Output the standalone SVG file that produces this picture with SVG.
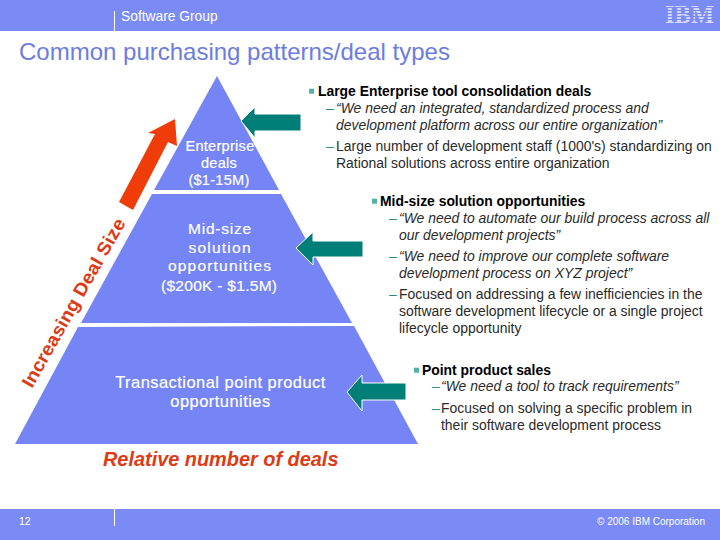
<svg xmlns="http://www.w3.org/2000/svg" width="720" height="540" viewBox="0 0 720 540">
<style>
text{font-family:"Liberation Sans",Arial,sans-serif}
.bar{fill:#7b8bf6}
.pyr{fill:#7585f6}
.nl{fill:#fff;font-size:15.5px;text-anchor:middle;stroke:#fff;stroke-width:.2}
.nt{fill:#fff;font-size:16.4px;letter-spacing:.5px;text-anchor:middle;stroke:#fff;stroke-width:.2}
.nb{fill:#fff;font-size:14.5px;letter-spacing:.3px;text-anchor:middle;stroke:#fff;stroke-width:.2}
.h{fill:#000;font-size:13.9px;font-weight:bold}
.b{fill:#2a2a2a;font-size:13.95px}
.i{fill:#2a2a2a;font-size:13.95px;font-style:italic}
.dash{fill:#2a8a84;font-size:13.95px}
.bul{fill:#4fb3aa}
.arr{fill:#007f78;stroke:#fff;stroke-width:1}
.red{fill:#dc3b14;font-weight:bold}
</style>
<g id="header">
<rect class="bar" width="720" height="31"/>
<rect x="114" y="11" width="1" height="20" fill="#fff"/>
<text x="121" y="21" font-size="13.8" fill="#fff">Software Group</text>
<text x="665" y="23" font-size="26" font-weight="bold" fill="#d3d8fb" textLength="49" lengthAdjust="spacingAndGlyphs" style="font-family:'Liberation Serif',serif">IBM</text>
<path d="M664 7.500H716M664 10.500H716M664 13.500H716M664 16.500H716M664 19.500H716" stroke="#7b8bf6" stroke-width="1" fill="none"/>
</g>
<text id="title" x="19" y="60" font-size="24" fill="#6c7ce0">Common purchasing patterns/deal types</text>
<g id="enterprise-node">
<polygon class="pyr" points="217,76 279,190 154,190"/>
<g class="nb"><text x="220" y="151">Enterprise</text><text x="219" y="168">deals</text><text x="219" y="185">($1-15M)</text></g>
</g>
<g id="midsize-node">
<polygon class="pyr" points="152,194 281,194 352,323 81,323"/>
<g class="nl"><text x="219.500" y="234" textLength="63">Mid-size</text><text x="219.500" y="253" textLength="62">solution</text><text x="219.500" y="271" textLength="103">opportunities</text><text x="219" y="291" textLength="116">($200K - $1.5M)</text></g>
</g>
<g id="transactional-node">
<polygon class="pyr" points="78,327 354,326 418,444 15,444"/>
<g class="nt"><text x="220.500" y="388">Transactional point product</text><text x="220.500" y="407">opportunities</text></g>
</g>
<g id="connectors">
<polygon fill="#f03c08" points="175,119 177,146 168,142 133,210 119,202 155,134 148,133"/>
<polygon class="arr" points="241,121 255,107 255,114 301,114 301,131 255,131 255,138"/>
<polygon class="arr" points="296,248 313,232 313,241 363,241 363,257 313,257 313,265"/>
<polygon class="arr" points="347,392 362,375 362,383 406,383 406,400 362,400 362,411"/>
</g>
<text id="increasing" class="red" font-size="18.500" transform="translate(32,389) rotate(-60.500)" textLength="191" lengthAdjust="spacingAndGlyphs">Increasing Deal Size</text>
<text id="relative" class="red" x="103" y="466" font-size="19.900" font-style="italic">Relative number of deals</text>
<g id="enterprise-text" transform="translate(0,.7)">
<rect class="bul" x="309" y="88" width="5" height="5"/>
<text class="h" x="318" y="95">Large Enterprise tool consolidation deals</text>
<text class="dash" x="326" y="112">–</text><text class="i" x="336" y="112">“We need an integrated, standardized process and</text>
<text class="i" x="336" y="129">development platform across our entire organization”</text>
<text class="dash" x="326" y="150">–</text><text class="b" x="336" y="150">Large number of development staff (1000's) standardizing on</text>
<text class="b" x="336" y="167">Rational solutions across entire organization</text>
</g>
<g id="midsize-text" transform="translate(0,.7)">
<rect class="bul" x="372" y="198" width="5" height="5"/>
<text class="h" x="380" y="205">Mid-size solution opportunities</text>
<text class="dash" x="389" y="222">–</text><text class="i" x="399" y="222">“We need to automate our build process across all</text>
<text class="i" x="399" y="239">our development projects”</text>
<text class="dash" x="389" y="260">–</text><text class="i" x="399" y="260">“We need to improve our complete software</text>
<text class="i" x="399" y="277">development process on XYZ project”</text>
<text class="dash" x="389" y="298">–</text><text class="b" x="399" y="298">Focused on addressing a few inefficiencies in the</text>
<text class="b" x="399" y="315">software development lifecycle or a single project</text>
<text class="b" x="399" y="332">lifecycle opportunity</text>
</g>
<g id="point-text" transform="translate(0,.7)">
<rect class="bul" x="414" y="367" width="5" height="5"/>
<text class="h" x="422" y="374">Point product sales</text>
<text class="dash" x="432" y="390">–</text><text class="i" x="441" y="390">“We need a tool to track requirements”</text>
<text class="dash" x="432" y="412">–</text><text class="b" x="441" y="412">Focused on solving a specific problem in</text>
<text class="b" x="441" y="429">their software development process</text>
</g>
<g id="footer">
<rect class="bar" y="509" width="720" height="31"/>
<rect x="114" y="509" width="1" height="17" fill="#fff"/>
<text x="19" y="525" font-size="10.500" fill="#fff">12</text>
<text x="705" y="525" font-size="10" fill="#fff" text-anchor="end">© 2006 IBM Corporation</text>
</g>
</svg>
